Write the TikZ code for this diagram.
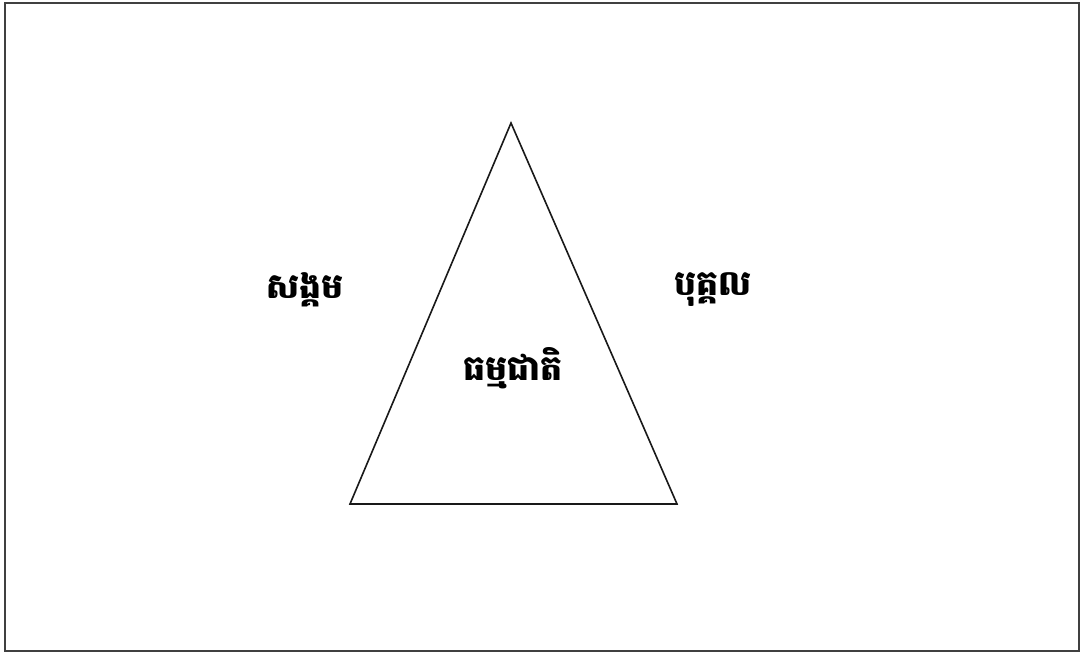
\documentclass[tikz,border=0pt]{standalone}
\usepackage{fontspec}
\newfontfamily\khmerfont[Script=Khmer]{Battambang}
\tikzset{
  frame/.style={draw=black!75, line width=1.8pt},
  tri/.style={draw=black!90, line width=1.2pt, line join=miter},
  lbl/.style={font=\khmerfont\bfseries\fontsize{26}{30}\selectfont, inner sep=0pt, anchor=center}
}
\begin{document}
\begin{tikzpicture}[x=0.75pt,y=-0.75pt]
\useasboundingbox (0,0) rectangle (1083,655);
\fill[white] (0,0) rectangle (1083,655);
\draw[frame] (5,3) rectangle (1079,651);
\coordinate (apex) at (511,123);
\coordinate (bl) at (350,504);
\coordinate (br) at (677,504);
\draw[tri] (apex) -- (br) -- (bl) -- cycle;
\node[lbl] (soc) at (305,290) {សង្គម};
\node[lbl] (ind) at (713,290) {បុគ្គល};
\node[lbl] (nat) at (513,368) {ធម្មជាតិ};
\end{tikzpicture}
\end{document}
